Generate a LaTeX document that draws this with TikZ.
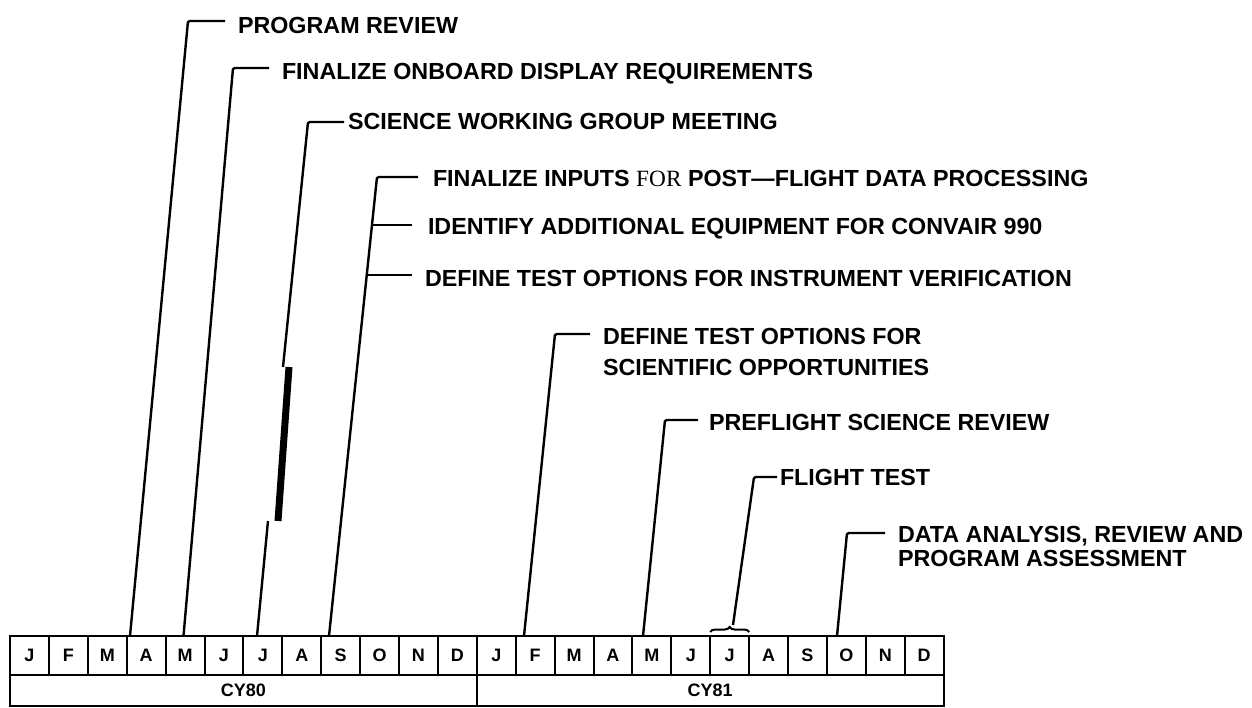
\documentclass[tikz,border=0pt]{standalone}
\usepackage{fontspec}
\setmainfont{Liberation Sans}
\newfontfamily\oddserif{Liberation Serif}
\usetikzlibrary{decorations.pathreplacing}

\tikzset{
  leader/.style={line width=2.4pt, rounded corners=1.5pt, shorten >=13pt},
  bar/.style={line width=7pt},
  event/.style={anchor=base west, inner sep=0pt, outer sep=0pt, align=left,
    font=\fontsize{23.3}{31}\selectfont\bfseries},
  month/.style={draw, line width=2pt, minimum width=38.9pt, minimum height=39pt,
    inner sep=0pt, font=\fontsize{18}{18}\selectfont\bfseries},
  year/.style={draw, line width=2pt, minimum width=466.8pt, minimum height=31pt,
    inner sep=0pt, font=\fontsize{18}{18}\selectfont\bfseries},
}

\begin{document}
\begin{tikzpicture}[x=1pt,y=-1pt]
\useasboundingbox (0,0) rectangle (1252,708);

% month and year strip
\foreach \m [count=\i from 0] in {J,F,M,A,M,J,J,A,S,O,N,D,J,F,M,A,M,J,J,A,S,O,N,D}
  \node[month] (m\i) at ({10+38.9*(\i+0.5)},655.5) {\m};
\node[year] (cy80) at (243.4,690.5) {CY80};
\node[year] (cy81) at (710.2,690.5) {CY81};

% events (two-line ones sit on their last baseline)
\node[event] (pr) at (238,34) {PROGRAM REVIEW};
\node[event] (fo) at (282,80) {FINALIZE ONBOARD DISPLAY REQUIREMENTS};
\node[event] (swg) at (348,130) {SCIENCE WORKING GROUP MEETING};
\node[event] (fi) at (433,187) {FINALIZE INPUTS {\oddserif\mdseries FOR} POST—FLIGHT DATA PROCESSING};
\node[event] (eq) at (428,235) {IDENTIFY ADDITIONAL EQUIPMENT FOR CONVAIR 990};
\node[event] (tv) at (425,287) {DEFINE TEST OPTIONS FOR INSTRUMENT VERIFICATION};
\node[event] (ts) at (603,375) {DEFINE TEST OPTIONS FOR\\SCIENTIFIC OPPORTUNITIES};
\node[event] (pf) at (709,430) {PREFLIGHT SCIENCE REVIEW};
\node[event] (ft) at (780,485) {FLIGHT TEST};
\node[event,font=\fontsize{23.3}{24}\selectfont\bfseries] (da) at (898,566) {DATA ANALYSIS, REVIEW AND\\PROGRAM ASSESSMENT};

% leaders
\coordinate (pr-top) at (188,21); \coordinate (pr-foot) at (130,636);
\draw[leader] (pr-foot) -- (pr-top) -- (pr-top -| pr.west);
\coordinate (fo-top) at (233,68); \coordinate (fo-foot) at (183.5,636);
\draw[leader] (fo-foot) -- (fo-top) -- (fo-top -| fo.west);

\coordinate (swg-top) at (308,122); \coordinate (swg-foot) at (257,636);
\coordinate (swg-a) at (283,367); \coordinate (swg-b) at (268,521);
\draw[leader,shorten >=4pt] (swg-a) -- (swg-top) -- (swg-top -| swg.west);
\draw[bar] (289,367) -- (278,521);
\draw[leader,shorten >=0pt] (swg-foot) -- (swg-b);

\coordinate (fi-top) at (377,177); \coordinate (fi-foot) at (329,636);
\coordinate (eq-fork) at (372,225); \coordinate (tv-fork) at (366.7,275);
\draw[leader,shorten >=15pt] (fi-foot) -- (fi-top) -- (fi-top -| fi.west);
\draw[leader,shorten >=16pt] (eq-fork) -- (eq-fork -| eq.west);
\draw[leader] (tv-fork) -- (tv-fork -| tv.west);

\coordinate (ts-top) at (555,334); \coordinate (ts-foot) at (524,636);
\draw[leader] (ts-foot) -- (ts-top) -- (ts-top -| ts.west);
\coordinate (pf-top) at (665,420); \coordinate (pf-foot) at (643,636);
\draw[leader,shorten >=11pt] (pf-foot) -- (pf-top) -- (pf-top -| pf.west);

\coordinate (ft-top) at (754,477); \coordinate (ft-foot) at (733,625);
\draw[leader,shorten >=3pt] (ft-foot) -- (ft-top) -- (ft-top -| ft.west);
\draw[line width=2pt,decorate,decoration={brace,amplitude=5pt}]
  (m18.north west) ++(1,-3) -- ([shift={(-1,-3)}]m18.north east);

\coordinate (da-top) at (847,533); \coordinate (da-foot) at (837,636);
\draw[leader] (da-foot) -- (da-top) -- (da-top -| da.west);
\end{tikzpicture}
\end{document}
